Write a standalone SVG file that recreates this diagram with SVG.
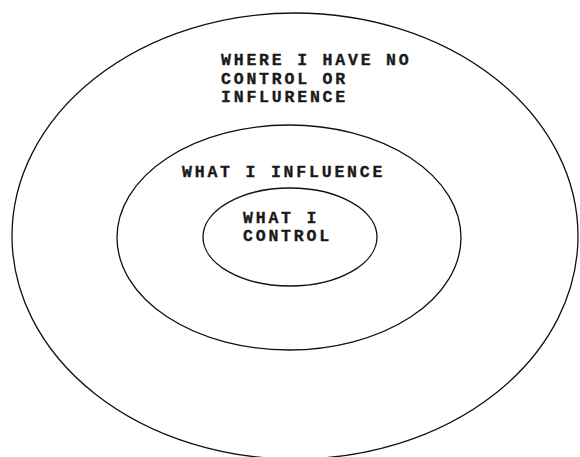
<svg xmlns="http://www.w3.org/2000/svg" width="580" height="457" viewBox="0 0 580 457">
<style>
.ring{fill:none;stroke:#111;stroke-width:1.3}
.t{font-family:"Liberation Mono","Courier New",monospace;font-weight:bold;font-size:16.5px;letter-spacing:2.8px;fill:#1a1a1a;stroke:#1a1a1a;stroke-width:0.35}
</style>
<rect width="580" height="457" fill="#fff"/>
<g id="outer">
<ellipse class="ring" cx="295" cy="236" rx="283" ry="223"/>
<text class="t" x="221" y="65">WHERE I HAVE NO</text>
<text class="t" x="221" y="84">CONTROL OR</text>
<text class="t" x="221" y="102">INFLURENCE</text>
</g>
<g id="middle">
<ellipse class="ring" cx="289" cy="237.5" rx="172" ry="112.5"/>
<text class="t" x="182" y="177">WHAT I INFLUENCE</text>
</g>
<g id="inner">
<ellipse class="ring" cx="290" cy="237" rx="87" ry="49"/>
<text class="t" x="243" y="223">WHAT I</text>
<text class="t" x="243" y="241">CONTROL</text>
</g>
<g id="connectors"/>
</svg>
